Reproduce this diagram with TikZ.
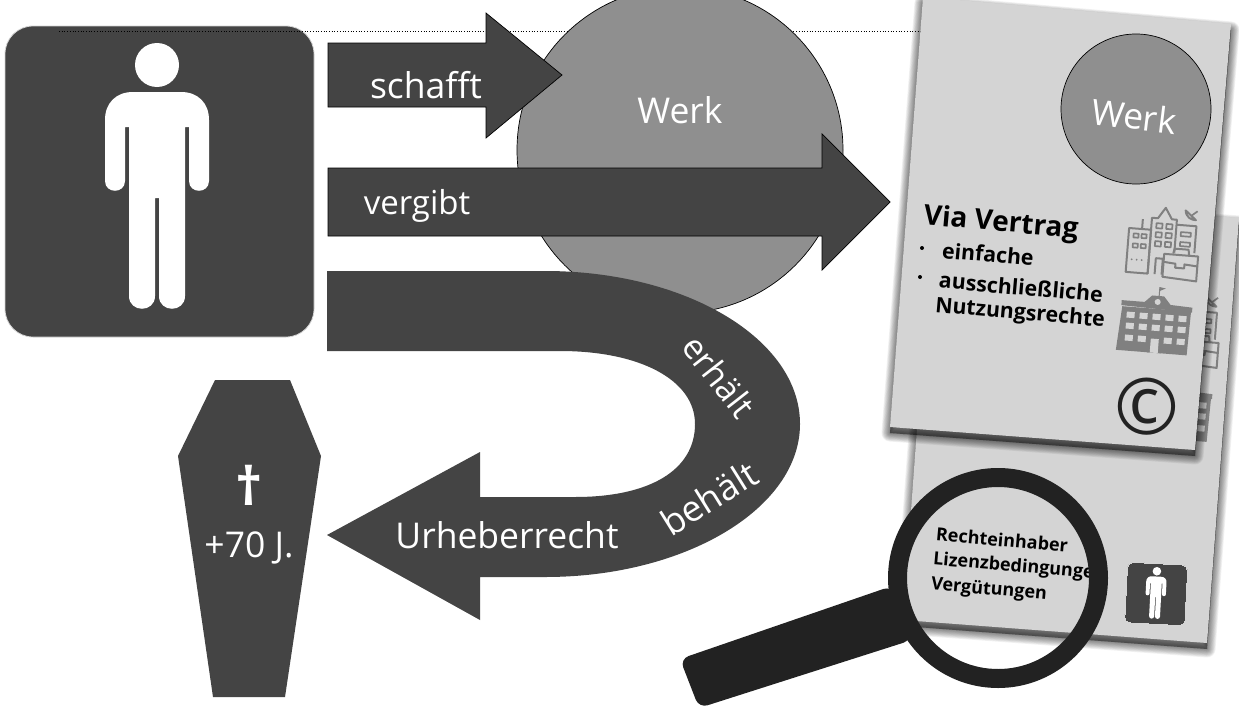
\documentclass[tikz,border=0pt]{standalone}
\usepackage{fontspec}
\setmainfont{Open Sans}
\newcommand{\fsz}[1]{\fontsize{#1}{#1}\selectfont}
\definecolor{dark}{HTML}{444444}
\definecolor{ringc}{HTML}{222222}
\definecolor{midg}{HTML}{8F8F8F}
\definecolor{pageg}{HTML}{D4D4D4}
\definecolor{icong}{HTML}{808080}
\tikzset{
  lbl/.style={text=white,inner sep=0pt,font=\fsz{35.5}},
  boldlbl/.style={text=black,inner sep=0pt,font=\bfseries\fsz{21.3}},
  lenslbl/.style={text=black,inner sep=0pt,anchor=west,rotate=-5,font=\bfseries\fsz{18}},
  arrowshape/.style={fill=dark,draw=black,line width=.7pt},
  pagefill/.style={fill=pageg},
  iconline/.style={draw=icong,line width=2pt,line join=round},
  iconthin/.style={draw=icong,line width=1.7pt,line join=round},
  iconsolid/.style={fill=icong}
}
\newcommand{\personpath}{%
  (133,92) .. controls (116,92) and (105,103) .. (105,120) -- (105,181)
  .. controls (105,194) and (125,194) .. (125,181) -- (125,127) -- (129,127) -- (129,296)
  .. controls (129,313) and (155,313) .. (155,296) -- (155,198) -- (159,198) -- (159,296)
  .. controls (159,313) and (185,313) .. (185,296) -- (185,127) -- (189,127) -- (189,181)
  .. controls (189,194) and (209,194) .. (209,181) -- (209,120)
  .. controls (209,103) and (198,92) .. (181,92) -- cycle}
\newcommand{\avatar}[2]{%
  \fill[dark,draw=pageg,line width=#2,rounded corners=#1] (5,26) rectangle (314,337);
  \fill[white] (157,65) circle (22);
  \fill[white] \personpath;}
\newcommand{\buildingicon}{%
  \draw[iconline] (1,24) rectangle (23,68);
  \draw[iconline] (14,24) -- (14,14);
  \draw[iconline] (23,68) -- (23,12) -- (29,12) -- (36,1) -- (43,12) -- (48,12) -- (48,45);
  \draw[iconline] (48,17) -- (68,17) -- (68,44);
  \draw[iconline] (30,68) -- (30,52) -- (37,52) -- (37,68);
  \foreach \cx in {28,38}{\foreach \cy in {17,26,35}{\draw[iconthin] (\cx,\cy) rectangle +(6,5);}}
  \foreach \cy in {29,39}{\foreach \cx in {6,14}{\draw[iconthin] (\cx,\cy) rectangle +(5,4);}}
  \foreach \cx in {6,11,16}{\fill[icong] (\cx,55) circle (1);}
  \foreach \cy in {24,34}{\draw[iconthin] (53,\cy) rectangle +(10,4);}
  \draw[iconline,fill=pageg] (38,47) -- (72,47) -- (72,72) -- (38,70) -- cycle;
  \draw[iconline] (47,46) -- (48,41) -- (62,41) -- (63,47);
  \draw[iconline] (38,55) -- (50,56) -- (50,60) -- (59,60) -- (59,56) -- (72,57);
  \draw[iconline] (56,2) .. controls (57,9) and (62,11) .. (67,11) -- cycle;
  \draw[iconthin] (62,7) -- (68,2);
}
\newcommand{\schoolicon}{%
  \fill[iconsolid] (3,22) -- (72,22) -- (71,66) -- (0,66) -- cycle;
  \fill[iconsolid] (2,16) -- (25,16) -- (32,9) -- (44,9) -- (51,17) -- (73,18) -- (73,23) -- (2,21) -- cycle;
  \draw[icong,line width=1pt] (39,9) -- (39,0);
  \fill[iconsolid] (39,0) -- (45,1) -- (39,4) -- cycle;
  \fill[pageg] (38,15) circle (3);
  \foreach \wy in {27,38,50}{\foreach \wx in {8,21,34,47,60}{\fill[pageg] (\wx,\wy) rectangle +(8,6);}}
  \fill[iconsolid] (31,47) rectangle (45,66);
  \fill[pageg] (34,52) rectangle (42,66);
}
\begin{document}
\begin{tikzpicture}[x=1pt,y=-1pt]
\useasboundingbox (0,0) rectangle (1239,720);
\clip (0,0) rectangle (1239,720);
\fill[white] (0,0) rectangle (1239,720);

% person tile
\avatar{28pt}{.8pt}
\draw[black,line width=.7pt,dotted] (59,31.5) -- (925,31.5);

% Werk circle
\node[circle,fill=midg,draw=black,line width=.7pt,minimum size=326pt,inner sep=0pt] (werk) at (680,150) {};
\node[lbl] (werkt) at (680,110) {Werk};

% arrows
\path[arrowshape] (328,43) -- (486,43) -- (486,13) -- (562,75) -- (486,138) -- (486,107) -- (328,107) -- cycle;
\node[lbl] (schafft) at (426,85) {schafft};
\path[arrowshape] (328,168) -- (822,168) -- (822,134) -- (890,202) -- (822,270) -- (822,236) -- (328,236) -- cycle;
\node[lbl,font=\fsz{33}] (vergibt) at (417,206) {vergibt};

% U-turn arrow
\fill[dark] (327,271) -- (545,271) .. controls (686,271) and (800,339) .. (800,424)
  .. controls (800,508) and (686,577) .. (545,577)
  -- (480,577) -- (480,620) -- (327,535) -- (480,452) -- (480,497) -- (575,497)
  .. controls (650,497) and (695,470) .. (695,424)
  .. controls (695,380) and (640,351) .. (560,351) -- (327,351) -- cycle;
\node[lbl,font=\fsz{34},rotate=-52] (erhaelt) at (719,376) {erhält};
\node[lbl,font=\fsz{36},rotate=32] (behaelt) at (709,498) {behält};
\node[lbl] (urheber) at (507,535) {Urheberrecht};

% coffin
\fill[dark] (215,380) -- (290,380) -- (321,456) -- (285,697) -- (213,697) -- (178,456) -- cycle;
\node[lbl,font=\bfseries\fsz{53}] (kreuz) at (249,485) {†};
\node[lbl] (plus) at (249,548) {+70 J.};

% back page
\foreach \i in {1,...,10}{
  \fill[black,opacity=.055,draw=black,line width=\i*1.7pt,line join=round]
    (903,626) -- (1207,649) -- (1239,224) -- (934,201) -- cycle;}
\fill[pagefill] (903,620) -- (1207,643) -- (1239,218) -- (934,195) -- cycle;
\begin{scope}[shift={(1150.5,290.5)},rotate=-4.5]\buildingicon\end{scope}
\begin{scope}[shift={(1141,370.5)},rotate=-4.5]\schoolicon\end{scope}

% person on back page
\begin{scope}[shift={(1127,557)},rotate=-3,scale=.195]\avatar{5.5pt}{0pt}\end{scope}

% lens text
\node[lenslbl] (l1) at (936,534) {Rechteinhaber};
\node[lenslbl] (l2) at (933,560) {Lizenzbedingungen};
\node[lenslbl] (l3) at (931,585) {Vergütungen};

% magnifier
\fill[ringc,rounded corners=9pt] (892,586) -- (680,659) -- (699,708) -- (912,640) -- cycle;
\node[circle,draw=ringc,line width=19pt,minimum size=201pt,inner sep=0pt] (lens) at (998,578) {};

% front page
\foreach \i in {1,...,10}{
  \fill[black,opacity=.06,draw=black,line width=\i*1.7pt,line join=round]
    (923,3) -- (1231,30) -- (1195,456) -- (890,433) -- cycle;}
\fill[pagefill] (923,-3) -- (1231,24) -- (1195,450) -- (890,427) -- cycle;
\node[circle,fill=midg,draw=black,line width=.7pt,minimum size=150pt,inner sep=0pt] (werk2) at (1136,109) {};
\node[lbl,rotate=-7] (werk2t) at (1134,116) {Werk};
\node[boldlbl,rotate=-5,font=\bfseries\fsz{28}] (via) at (1001,224) {Via Vertrag};
\node[boldlbl,rotate=-5] (b1) at (988,254) {einfache};
\node[boldlbl,rotate=-5] (b2) at (1021,287) {ausschließliche};
\node[boldlbl,rotate=-5] (b3) at (1020,314) {Nutzungsrechte};
\fill[black] (922,248) circle (2) (920,277) circle (2);
\begin{scope}[shift={(1130,204)},rotate=-4.5]\buildingicon\end{scope}
\begin{scope}[shift={(1121,284)},rotate=-4.5]\schoolicon\end{scope}
\node[inner sep=0pt,text=ringc,font=\fsz{78}] (copy) at (1147,407) {©};
\end{tikzpicture}
\end{document}
